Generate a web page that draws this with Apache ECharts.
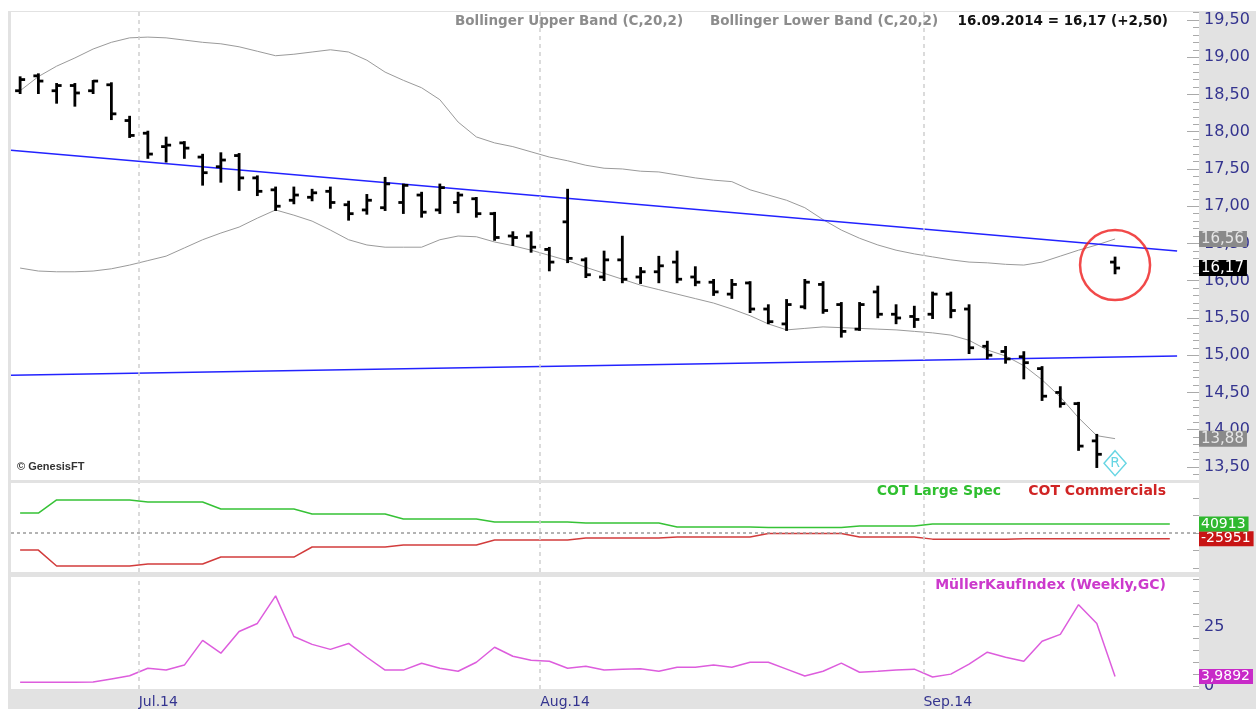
<!DOCTYPE html>
<html lang="de">
<head>
<meta charset="UTF-8">
<title>Chart</title>
<style>
  html, body { margin: 0; padding: 0; background: #fff; }
  #main { width: 1256px; height: 709px; }
</style>
</head>
<body>
<div id="main"></div>
<script src="https://cdn.jsdelivr.net/npm/echarts@6.0.0/dist/echarts.min.js"></script>
<script>
// trading days (US calendar)
const dates = [
  '2014-06-20','2014-06-23','2014-06-24','2014-06-25','2014-06-26','2014-06-27','2014-06-30',
  '2014-07-01','2014-07-02','2014-07-03','2014-07-07','2014-07-08','2014-07-09','2014-07-10','2014-07-11',
  '2014-07-14','2014-07-15','2014-07-16','2014-07-17','2014-07-18','2014-07-21','2014-07-22','2014-07-23',
  '2014-07-24','2014-07-25','2014-07-28','2014-07-29','2014-07-30','2014-07-31',
  '2014-08-01','2014-08-04','2014-08-05','2014-08-06','2014-08-07','2014-08-08','2014-08-11','2014-08-12',
  '2014-08-13','2014-08-14','2014-08-15','2014-08-18','2014-08-19','2014-08-20','2014-08-21','2014-08-22',
  '2014-08-25','2014-08-26','2014-08-27','2014-08-28','2014-08-29',
  '2014-09-02','2014-09-03','2014-09-04','2014-09-05','2014-09-08','2014-09-09','2014-09-10','2014-09-11',
  '2014-09-12','2014-09-15','2014-09-16'
];
const open = [18.55,18.75,18.55,18.62,18.55,18.63,18.15,17.98,17.80,17.85,17.66,17.53,17.68,17.38,17.22,
  17.08,17.12,17.20,17.02,16.95,16.98,17.05,17.15,16.95,17.05,17.10,16.90,16.60,16.60,16.42,16.79,16.28,
  16.05,16.28,16.05,16.12,16.25,16.05,15.98,15.82,15.97,15.62,15.42,15.65,15.95,15.68,15.35,15.85,15.55,
  15.52,15.55,15.82,15.62,15.12,15.05,14.98,14.82,14.50,14.35,13.85,16.25];
const high = [18.73,18.77,18.64,18.64,18.68,18.65,18.20,18.00,17.92,17.86,17.69,17.71,17.70,17.40,17.25,
  17.25,17.22,17.25,17.06,17.15,17.38,17.29,17.18,17.29,17.18,17.11,16.91,16.65,16.65,16.44,17.22,16.30,
  16.39,16.59,16.17,16.32,16.39,16.18,16.01,16.01,15.98,15.67,15.74,16.01,15.98,15.70,15.70,15.92,15.67,
  15.65,15.84,15.84,15.67,15.18,15.11,15.04,14.84,14.57,14.36,13.93,16.31];
const low = [18.52,18.52,18.39,18.35,18.52,18.17,17.93,17.65,17.60,17.65,17.29,17.33,17.22,17.15,16.95,
  17.04,17.08,16.98,16.82,16.90,16.95,16.91,16.86,16.91,16.92,16.86,16.55,16.48,16.39,16.14,16.25,16.05,
  16.01,15.98,15.97,15.98,15.98,15.94,15.81,15.77,15.58,15.43,15.34,15.63,15.57,15.25,15.34,15.51,15.43,
  15.38,15.50,15.51,15.03,14.96,14.90,14.69,14.40,14.31,13.73,13.50,16.10];
const close = [18.70,18.68,18.62,18.52,18.68,18.24,17.95,17.70,17.82,17.78,17.45,17.62,17.38,17.20,17.00,
  17.15,17.18,17.05,16.90,17.08,17.30,17.28,16.92,17.25,17.15,16.90,16.58,16.58,16.45,16.25,16.30,16.08,
  16.28,16.02,16.12,16.20,16.02,15.98,15.85,15.95,15.62,15.45,15.68,15.98,15.60,15.32,15.68,15.55,15.50,
  15.48,15.82,15.60,15.10,15.00,14.95,14.90,14.45,14.35,13.78,13.67,16.17];

// Bollinger (C,20,2)
const bbUpper = [18.55,18.74,18.88,18.99,19.11,19.20,19.26,19.27,19.26,19.23,19.20,19.18,19.14,19.08,19.02,
  19.04,19.07,19.10,19.07,18.96,18.80,18.69,18.59,18.43,18.13,17.93,17.85,17.80,17.73,17.66,17.61,17.55,
  17.51,17.50,17.47,17.46,17.42,17.38,17.35,17.33,17.22,17.15,17.08,16.98,16.82,16.68,16.57,16.48,16.41,
  16.36,16.32,16.28,16.25,16.24,16.22,16.21,16.25,16.33,16.41,16.48,16.56];
const bbLower = [16.17,16.13,16.12,16.12,16.13,16.16,16.21,16.27,16.33,16.44,16.55,16.64,16.72,16.84,16.95,
  16.88,16.80,16.68,16.55,16.48,16.45,16.45,16.45,16.55,16.60,16.59,16.52,16.47,16.41,16.34,16.27,16.18,
  16.10,16.02,15.94,15.88,15.82,15.76,15.70,15.62,15.53,15.42,15.34,15.36,15.38,15.37,15.36,15.35,15.34,
  15.32,15.30,15.27,15.20,15.07,14.99,14.86,14.67,14.44,14.16,13.92,13.88];

// trend lines: [start, end] in bar index / price
const trendX = [-0.5, 63.4];
const trendUpper = [17.75, 16.40];
const trendLower = [14.73, 14.99];

// COT (daily hold of weekly values)
const cotSpec = [91000,91000,151000,151000,151000,151000,151000,142000,142000,142000,142000,
  110000,110000,110000,110000,110000,87000,87000,87000,87000,87000,64000,64000,64000,64000,64000,
  50000,50000,50000,50000,50000,46000,46000,46000,46000,46000,27000,27000,27000,27000,27000,
  25000,25000,25000,25000,25000,32000,32000,32000,32000,
  40913,40913,40913,40913,40913,40913,40913,40913,40913,40913,40913,40913,40913,40913];
const cotComm = [-78000,-78000,-151000,-151000,-151000,-151000,-151000,-142000,-142000,-142000,-142000,
  -110000,-110000,-110000,-110000,-110000,-64000,-64000,-64000,-64000,-64000,-55000,-55000,-55000,-55000,-55000,
  -32000,-32000,-32000,-32000,-32000,-23000,-23000,-23000,-23000,-23000,-18000,-18000,-18000,-18000,-18000,
  -2000,-2000,-2000,-2000,-2000,-18000,-18000,-18000,-18000,
  -28000,-28000,-28000,-28000,-28000,-25951,-25951,-25951,-25951,-25951,-25951,-25951,-25951,-25951];

const mki = [1.6,1.6,1.6,1.6,1.7,3.0,4.3,7.5,6.7,8.8,19.2,13.8,22.9,26.3,37.9,20.8,17.5,15.4,17.9,12.1,
  6.7,6.7,9.6,7.5,6.2,10.0,16.3,12.5,10.8,10.4,7.5,8.3,6.7,7.1,7.3,6.2,7.9,7.9,8.8,7.9,10.0,10.0,7.1,4.2,
  6.2,9.6,5.8,6.2,6.7,7.1,3.8,5.0,9.2,14.2,12.1,10.4,18.8,21.7,34.2,26.3,3.9892];

// axis ticks
const priceTicks = [13.5,14,14.5,15,15.5,16,16.5,17,17.5,18,18.5,19,19.5];
const cotTicks = [-160000,-80000,0,80000,160000];
const mkiTicks = [0,5,10,15,20,25,30,35,40,45];
const mkiLabels = [0,25];

const monthNames = ['Jan','Feb','Mar','Apr','May','Jun','Jul','Aug','Sep','Oct','Nov','Dec'];
const monthBounds = [];
for (let i = 1; i < dates.length; i++) {
  if (dates[i].slice(5, 7) !== dates[i - 1].slice(5, 7)) monthBounds.push(i - 0.5);
}
const minorTicks = [];
for (let k = 134; k <= 196; k++) minorTicks.push(k / 10);

const comma = (v, d) => v.toFixed(d).replace('.', ',');
const navy = '#34348f';
const font = 'DejaVu Sans';

const chart = echarts.init(document.getElementById('main'));

function renderOhlc(params, api) {
  const i = api.value(0);
  const o = api.coord([i, api.value(1)]);
  const h = api.coord([i, api.value(2)]);
  const l = api.coord([i, api.value(3)]);
  const c = api.coord([i, api.value(4)]);
  const st = { stroke: '#000', lineWidth: 2.8 };
  return {
    type: 'group',
    children: [
      { type: 'line', shape: { x1: h[0], y1: h[1] - 1, x2: l[0], y2: l[1] + 1 }, style: st },
      { type: 'line', shape: { x1: o[0] - 5, y1: o[1], x2: o[0], y2: o[1] }, style: st },
      { type: 'line', shape: { x1: c[0], y1: c[1], x2: c[0] + 5, y2: c[1] }, style: st }
    ]
  };
}

const monthLines = monthBounds.map(v => ({ xAxis: v }));
const vLineStyle = { type: [4, 4], color: '#cfcfcf', width: 1.5 };
const noLine = { show: false, onZero: false };

const xBase = {
  type: 'value', min: -0.5, max: 64.6,
  axisLine: noLine, axisTick: { show: false },
  splitLine: { show: false }, axisLabel: { show: false }
};
const mainGrid = { left: 11, right: 57, top: 12, height: 468 };

const last = dates.length - 1;
const d = dates[last];
const headerRight = d.slice(8, 10) + '.' + d.slice(5, 7) + '.' + d.slice(0, 4) + ' = ' +
  comma(close[last], 2) + ' (+' + comma(close[last] - close[last - 1], 2) + ')';

const option = {
  animation: false,
  backgroundColor: '#e2e2e2',
  grid: [
    Object.assign({ show: true, backgroundColor: '#fff', borderWidth: 0 }, mainGrid),
    { left: 11, right: 57, top: 483, height: 89, show: true, backgroundColor: '#fff', borderWidth: 0 },
    { left: 11, right: 57, top: 577, height: 113, show: true, backgroundColor: '#fff', borderWidth: 0 },
    Object.assign({ show: false }, mainGrid)   // overlay, carries the longer major ticks
  ],
  xAxis: [
    Object.assign({}, xBase, { gridIndex: 0 }),
    Object.assign({}, xBase, { gridIndex: 1 }),
    Object.assign({}, xBase, {
      gridIndex: 2,
      axisLabel: {
        show: true, customValues: monthBounds, align: 'left', margin: 6,
        color: navy, fontFamily: font, fontSize: 14,
        formatter: v => {
          const s = dates[Math.ceil(v)];
          return monthNames[+s.slice(5, 7) - 1] + '.' + s.slice(2, 4);
        }
      }
    }),
    Object.assign({}, xBase, { gridIndex: 3 })
  ],
  yAxis: [
    {
      gridIndex: 0, type: 'value', position: 'right', min: 13.325, max: 19.607,
      axisLine: noLine, splitLine: { show: false },
      axisTick: { show: true, inside: true, length: 6, customValues: minorTicks, lineStyle: { color: '#aaa' } },
      axisLabel: { customValues: priceTicks, formatter: v => comma(v, 2), color: navy, fontFamily: font, fontSize: 16, margin: 5 }
    },
    {
      gridIndex: 1, type: 'value', position: 'right', min: -178300, max: 228600,
      axisLine: noLine, splitLine: { show: false }, axisLabel: { show: false },
      axisTick: { show: true, inside: true, length: 6, customValues: cotTicks, lineStyle: { color: '#aaa' } }
    },
    {
      gridIndex: 2, type: 'value', position: 'right', min: -1.25, max: 45.83,
      axisLine: noLine, splitLine: { show: false },
      axisTick: { show: true, inside: true, length: 6, customValues: mkiTicks, lineStyle: { color: '#aaa' } },
      axisLabel: { customValues: mkiLabels, color: navy, fontFamily: font, fontSize: 16, margin: 5 }
    },
    {
      gridIndex: 3, type: 'value', position: 'right', min: 13.325, max: 19.607,
      axisLine: noLine, splitLine: { show: false }, axisLabel: { show: false },
      axisTick: { show: true, inside: true, length: 12, customValues: priceTicks, lineStyle: { color: '#aaa' } }
    }
  ],
  series: [
    {
      type: 'line', xAxisIndex: 0, yAxisIndex: 0, showSymbol: false, silent: true,
      data: bbUpper.map((v, i) => [i, v]),
      lineStyle: { color: '#9a9a9a', width: 1 },
      markLine: { silent: true, symbol: 'none', label: { show: false }, lineStyle: vLineStyle, data: monthLines }
    },
    {
      type: 'line', xAxisIndex: 0, yAxisIndex: 0, showSymbol: false, silent: true,
      data: bbLower.map((v, i) => [i, v]),
      lineStyle: { color: '#9a9a9a', width: 1 }
    },
    {
      type: 'line', xAxisIndex: 0, yAxisIndex: 0, showSymbol: false, silent: true,
      data: trendX.map((x, i) => [x, trendUpper[i]]),
      lineStyle: { color: '#2323ff', width: 1.5 }
    },
    {
      type: 'line', xAxisIndex: 0, yAxisIndex: 0, showSymbol: false, silent: true,
      data: trendX.map((x, i) => [x, trendLower[i]]),
      lineStyle: { color: '#2323ff', width: 1.5 }
    },
    {
      type: 'custom', xAxisIndex: 0, yAxisIndex: 0, z: 5,
      renderItem: renderOhlc,
      encode: { x: 0, y: [1, 2, 3, 4] },
      data: dates.map((_, i) => [i, open[i], high[i], low[i], close[i]])
    },
    {
      // red circle around last bar
      type: 'scatter', xAxisIndex: 0, yAxisIndex: 0, z: 6, silent: true,
      symbol: 'circle', symbolSize: 70,
      itemStyle: { color: 'rgba(0,0,0,0)', borderColor: '#ee1c1c', borderWidth: 2.5 },
      data: [[last, 16.21]]
    },
    {
      type: 'scatter', xAxisIndex: 0, yAxisIndex: 0, z: 6, silent: true,
      symbol: 'diamond', symbolSize: [22, 25],
      itemStyle: { color: '#fff', borderColor: '#40cbdc', borderWidth: 1.5 },
      label: { show: true, position: 'inside', formatter: 'R', color: '#40cbdc', fontFamily: font, fontSize: 14 },
      data: [[last, 13.55]]
    },
    {
      type: 'line', xAxisIndex: 1, yAxisIndex: 1, showSymbol: false, silent: true,
      data: cotSpec.map((v, i) => [i, v]),
      lineStyle: { color: '#36c236', width: 1.5 },
      markLine: {
        silent: true, symbol: 'none', label: { show: false }, lineStyle: vLineStyle,
        data: monthLines.concat([{ yAxis: 0, lineStyle: { type: [3, 3], color: '#9a9a9a', width: 1.5 } }])
      }
    },
    {
      type: 'line', xAxisIndex: 1, yAxisIndex: 1, showSymbol: false, silent: true,
      data: cotComm.map((v, i) => [i, v]),
      lineStyle: { color: '#d23c3c', width: 1.5 }
    },
    {
      type: 'line', xAxisIndex: 2, yAxisIndex: 2, showSymbol: false, silent: true,
      data: mki.map((v, i) => [i, v]),
      lineStyle: { color: '#dd5ddd', width: 1.5 },
      markLine: { silent: true, symbol: 'none', label: { show: false }, lineStyle: vLineStyle, data: monthLines }
    }
  ],
  graphic: {
    elements: [
      { id: 'wTop', type: 'rect', shape: { x: 0, y: 0, width: 1256, height: 11 }, style: { fill: '#fff' }, z: -10 },
      { id: 'wLeft', type: 'rect', shape: { x: 0, y: 0, width: 8, height: 709 }, style: { fill: '#fff' }, z: -10 },
      { id: 'h1', type: 'text', x: 455, y: 21, z: 20,
        style: { text: 'Bollinger Upper Band (C,20,2)', fill: '#8c8c8c', font: 'bold 13.5px "DejaVu Sans"', verticalAlign: 'middle', textVerticalAlign: 'middle' } },
      { id: 'h2', type: 'text', x: 710, y: 21, z: 20,
        style: { text: 'Bollinger Lower Band (C,20,2)', fill: '#8c8c8c', font: 'bold 13.5px "DejaVu Sans"', verticalAlign: 'middle', textVerticalAlign: 'middle' } },
      { id: 'h3', type: 'text', x: 1168, y: 21, z: 20,
        style: { text: headerRight, fill: '#111', font: 'bold 13.5px "DejaVu Sans"', align: 'right', textAlign: 'right', verticalAlign: 'middle', textVerticalAlign: 'middle' } },
      { id: 'copy', type: 'text', x: 17, y: 467, z: 20,
        style: { text: '© GenesisFT', fill: '#333', font: 'bold 11px "Liberation Sans"', verticalAlign: 'middle', textVerticalAlign: 'middle' } },
      { id: 'c1', type: 'text', x: 1001, y: 491, z: 20,
        style: { text: 'COT Large Spec', fill: '#2fbf2f', font: 'bold 14px "DejaVu Sans"', align: 'right', textAlign: 'right', verticalAlign: 'middle', textVerticalAlign: 'middle' } },
      { id: 'c2', type: 'text', x: 1166, y: 491, z: 20,
        style: { text: 'COT Commercials', fill: '#d02424', font: 'bold 14px "DejaVu Sans"', align: 'right', textAlign: 'right', verticalAlign: 'middle', textVerticalAlign: 'middle' } },
      { id: 'm1', type: 'text', x: 1166, y: 585, z: 20,
        style: { text: 'MüllerKaufIndex (Weekly,GC)', fill: '#cc3acc', font: 'bold 14px "DejaVu Sans"', align: 'right', textAlign: 'right', verticalAlign: 'middle', textVerticalAlign: 'middle' } }
    ]
  }
};

chart.setOption(option);

// value tags on the right axis, placed through the axis scales
function tag(id, value, yAxisIndex, text, bg, fg, size) {
  const y = chart.convertToPixel({ yAxisIndex: yAxisIndex }, value);
  return {
    id: id, type: 'text', x: 1199, y: y, z: 50,
    style: {
      text: text, fill: fg, backgroundColor: bg, padding: [1, 3, 0, 2],
      font: size + 'px "DejaVu Sans"', verticalAlign: 'middle', textVerticalAlign: 'middle'
    }
  };
}
const lastCot = cotSpec.length - 1;
chart.setOption({
  graphic: {
    elements: [
      tag('t1', bbUpper[last], 0, comma(bbUpper[last], 2), '#8a8a8a', '#e6e6e6', 15),
      tag('t2', close[last], 0, comma(close[last], 2), '#000', '#fff', 15),
      tag('t3', bbLower[last], 0, comma(bbLower[last], 2), '#8a8a8a', '#e6e6e6', 15),
      tag('t4', cotComm[lastCot], 1, String(cotComm[lastCot]), '#c81414', '#fff', 14),
      tag('t5', cotSpec[lastCot], 1, String(cotSpec[lastCot]), '#2fb82f', '#fff', 14),
      tag('t6', mki[last], 2, comma(mki[last], 4), '#c82ac8', '#fff', 14)
    ]
  }
});
</script>
</body>
</html>
